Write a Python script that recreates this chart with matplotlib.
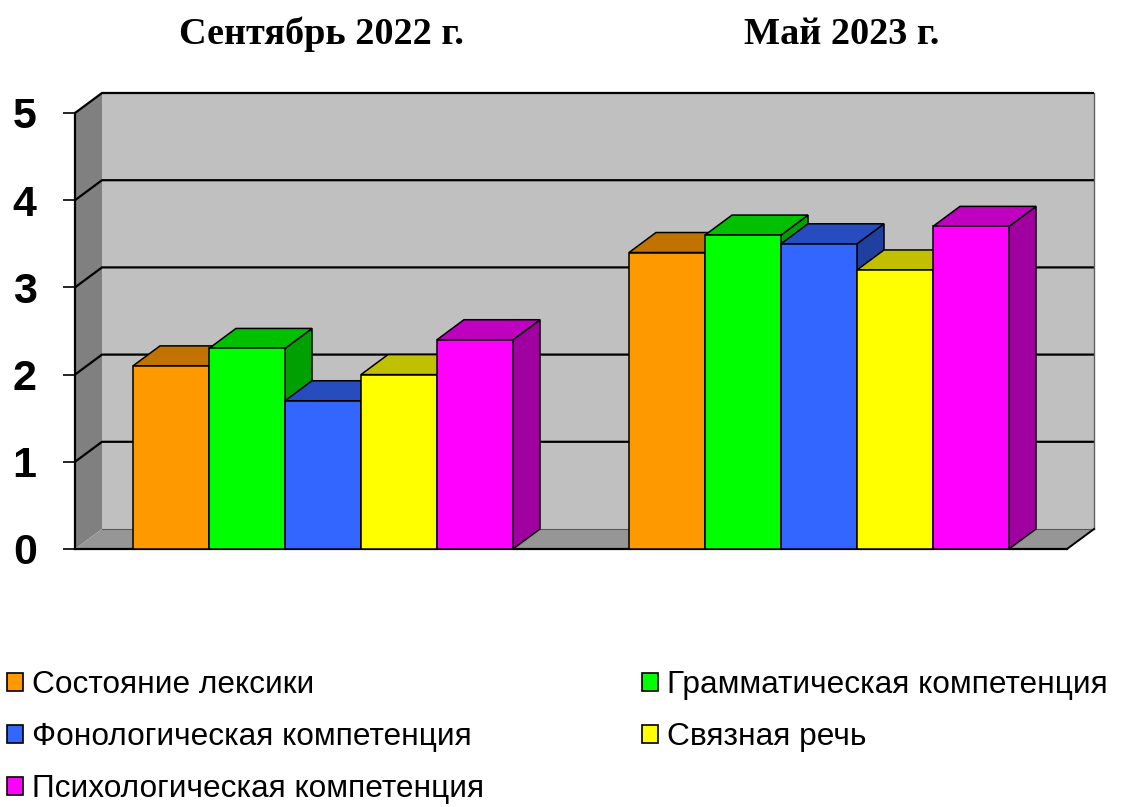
import matplotlib
matplotlib.use("Agg")
import matplotlib.pyplot as plt
from matplotlib.patches import Polygon, Patch
import numpy as np

# data
periods = ["Сентябрь 2022 г.", "Май 2023 г."]
series = ["Состояние лексики", "Грамматическая компетенция",
          "Фонологическая компетенция", "Связная речь",
          "Психологическая компетенция"]
sept_2022 = [2.1, 2.3, 1.7, 2.0, 2.4]
may_2023 = [3.4, 3.6, 3.5, 3.2, 3.7]
yticks = [0, 1, 2, 3, 4, 5]

front_colors = ["#FF9900", "#00FF00", "#3366FF", "#FFFF00", "#FF00FF"]
top_colors = ["#C07300", "#00C000", "#264CC0", "#C0C000", "#C000C0"]
side_colors = ["#A06000", "#00A000", "#2040A0", "#A0A000", "#A000A0"]

values = np.array([sept_2022, may_2023])  # shape (period, series)

W, H = 1123, 807
fig = plt.figure(figsize=(W / 100, H / 100), dpi=100)
ax = fig.add_axes([75 / W, (H - 549) / H, 992 / W, 436 / H])
ax.set_xlim(0, 2)
ax.set_ylim(0, 5)

# 3d depth offset in data units (27 px right, 20 px up)
dx = 27 / 496
dy = 20 / 87.2

# walls and floor
back = Polygon([(dx, dy), (2 + dx, dy), (2 + dx, 5 + dy), (dx, 5 + dy)],
               closed=True, fc="#C0C0C0", ec="none", zorder=0, clip_on=False)
left = Polygon([(0, 0), (dx, dy), (dx, 5 + dy), (0, 5)],
               closed=True, fc="#808080", ec="none", zorder=0, clip_on=False)
floor = Polygon([(0, 0), (2, 0), (2 + dx, dy), (dx, dy)],
                closed=True, fc="#969696", ec="none", zorder=0.5, clip_on=False)
for p in (back, left, floor):
    ax.add_patch(p)

# gridlines on back wall + left wall
for k in yticks[1:]:
    ax.plot([0, dx, 2 + dx], [k, k + dy, k + dy], color="black", lw=1.6,
            zorder=1, clip_on=False, solid_capstyle="butt")
ax.plot([dx, 2 + dx], [dy, dy], color="#5a5a5a", lw=0.8, zorder=0.6, clip_on=False)
ax.plot([2 + dx, 2 + dx], [dy, 5 + dy], color="#606060", lw=1.0, zorder=1, clip_on=False)
ax.plot([2, 2 + dx], [0, dy], color="black", lw=1.4, zorder=1, clip_on=False)

# bars
w = 76 / 496
centers = np.array([0.5, 1.5])
z = 3
for g in range(len(periods)):
    for i in range(len(series)):
        x0 = centers[g] + (i - 2.5) * w
        v = values[g, i]
        side = Polygon([(x0 + w, 0), (x0 + w + dx, dy), (x0 + w + dx, v + dy), (x0 + w, v)],
                       closed=True, fc=side_colors[i], ec="black", lw=1.1,
                       zorder=z, clip_on=False)
        top = Polygon([(x0, v), (x0 + w, v), (x0 + w + dx, v + dy), (x0 + dx, v + dy)],
                      closed=True, fc=top_colors[i], ec="black", lw=1.1,
                      zorder=z, clip_on=False)
        ax.add_patch(side)
        ax.add_patch(top)
        ax.bar(x0, v, width=w, align="edge", color=front_colors[i],
               edgecolor="black", linewidth=1.1, zorder=z + 0.5, clip_on=False)
        z += 1

# axes styling
for s in ("top", "right"):
    ax.spines[s].set_visible(False)
ax.spines["left"].set_linewidth(1.6)
ax.spines["bottom"].set_linewidth(1.6)
ax.spines["left"].set_zorder(2)
ax.spines["bottom"].set_zorder(2)
ax.set_facecolor("none")
ax.set_xticks([])
ax.set_yticks(yticks)
ax.set_yticklabels([str(t) for t in yticks], fontfamily="Liberation Sans",
                   fontweight="bold", fontsize=31)
ax.tick_params(axis="y", length=8.6, width=1.2, pad=19)

# period titles
title_x = [321, 842]
for t, x in zip(periods, title_x):
    fig.text(x / W, 1 - 34 / H, t, ha="center", va="center",
             fontfamily="Liberation Serif", fontweight="bold", fontsize=27.5)

# legend, row-major order like the reference
handles = [Patch(fc=c, ec="black", lw=1.2) for c in front_colors]
order = [0, 2, 4, 1, 3]
fig.legend([handles[i] for i in order], [series[i] for i in order],
           loc="upper left", bbox_to_anchor=(7 / W, 1 - 670 / H), ncol=2,
           frameon=False, borderpad=0, borderaxespad=0,
           prop={"family": "Liberation Sans", "size": 22.8},
           handlelength=0.5, handleheight=0.5, handletextpad=0.28,
           labelspacing=0.7, columnspacing=5.0)

fig.savefig("out.png", dpi=100)
